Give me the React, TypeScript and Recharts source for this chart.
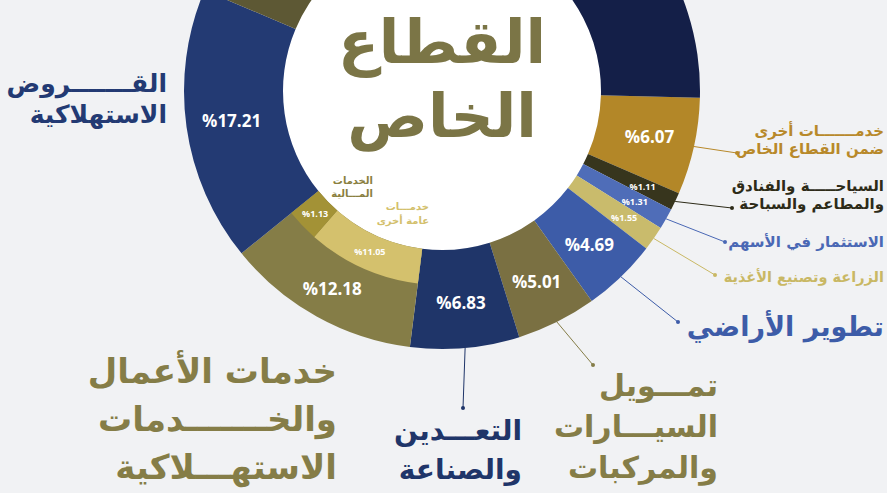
import { PieChart, Pie, Cell } from "recharts"

// private sector credit by activity (%), clockwise from the 3 o'clock side
const sectors = [
  "خدمات أخرى ضمن القطاع الخاص",
  "السياحة والفنادق والمطاعم والسباحة",
  "الاستثمار في الأسهم",
  "الزراعة وتصنيع الأغذية",
  "تطوير الأراضي",
  "تمويل السيارات والمركبات",
  "التعدين والصناعة",
  "خدمات الأعمال والخدمات الاستهلاكية",
  "القروض الاستهلاكية",
  "التجارة",
  "التمويل العقاري",
]
const shares = [6.07, 1.11, 1.31, 1.55, 4.69, 5.01, 6.83, 12.18, 17.21, 22.67, 21.37]

// breakdown of the business & consumer services slice
const subSectors = ["خدمات عامة أخرى", "الخدمات المالية"]
const subShares = [11.05, 1.13]
const PARENT = 7

const data = sectors.map((name, i) => ({ name, value: shares[i] }))
const subData = subSectors.map((name, i) => ({ name, value: subShares[i] }))

const fills = ["#b38728", "#37351d", "#4f6db8", "#c9bb6c", "#3d5ca8", "#7a7042", "#1f3569", "#857d47", "#233a73", "#5d5834", "#141f48"]
const subFills = ["#d4c16d", "#a39236"]

const START = 358.5
const total = shares.reduce((a, b) => a + b, 0)
const before = shares.slice(0, PARENT).reduce((a, b) => a + b, 0)
const subStart = START - (360 * before) / total
const subEnd = subStart - (360 * shares[PARENT]) / total

const CX = 442
const CY = 91
const INNER = 159
const OUTER = 258
const SUB_OUTER = 194
const RAD = Math.PI / 180
const AR = "'DejaVu Sans', sans-serif"
const NUM = "'Open Sans', sans-serif"

type Callout = { lines: string[]; x: number; y: number; size: number; gap: number; color: string; dot?: [number, number] }

const callouts: Record<number, Callout> = {
  0: { lines: ["خدمـــــــات أخرى", "ضمن القطاع الخاص"], x: 884, y: 136, size: 15, gap: 18, color: "#b8892a", dot: [737, 153] },
  1: { lines: ["السياحـــــة والفنادق", "والمطاعم والسباحة"], x: 884, y: 191, size: 15, gap: 18, color: "#2d2b18", dot: [732, 208] },
  2: { lines: ["الاستثمار في الأسهم"], x: 884, y: 247, size: 15, gap: 0, color: "#4a68b5", dot: [725, 242] },
  3: { lines: ["الزراعة وتصنيع الأغذية"], x: 884, y: 282, size: 14.5, gap: 0, color: "#c9b864", dot: [715, 275] },
  4: { lines: ["تطوير الأراضي"], x: 884, y: 336, size: 27, gap: 0, color: "#3d5ca8", dot: [678, 322] },
  5: { lines: ["تمـــويل", "السيـــارات", "والمركبات"], x: 718, y: 396, size: 30, gap: 41, color: "#857d47", dot: [593, 365] },
  6: { lines: ["التعـــدين", "والصناعة"], x: 522, y: 440, size: 28, gap: 39, color: "#1f3569", dot: [463, 408] },
  7: { lines: ["خدمات الأعمال", "والخـــــــدمات", "الاستهـــلاكية"], x: 337, y: 383, size: 34, gap: 48, color: "#857d47" },
  8: { lines: ["القـــــــروض", "الاستهلاكية"], x: 167, y: 92, size: 25, gap: 31, color: "#233a73" },
}

const subCallouts: Record<number, Callout> = {
  0: { lines: ["خدمـــات", "عامة أخرى"], x: 429, y: 210, size: 10, gap: 14, color: "#d3c06c" },
  1: { lines: ["الخدمات", "المـــالية"], x: 373, y: 184, size: 10, gap: 13, color: "#8a7f3f" },
}

function polar(r: number, angle: number) {
  return [CX + r * Math.cos(-angle * RAD), CY + r * Math.sin(-angle * RAD)]
}

function CalloutText({ c }: { c: Callout }) {
  return (
    <text textAnchor="end" fill={c.color} fontFamily={AR} fontWeight={700} fontSize={c.size}>
      {c.lines.map((l, k) => (
        <tspan key={k} x={c.x} y={c.y + k * c.gap}>
          {l}
        </tspan>
      ))}
    </text>
  )
}

function SectorLabel(props: any) {
  const { midAngle, value, index, outerRadius } = props
  const small = value < 2
  const r = index === PARENT ? (SUB_OUTER + OUTER) / 2 : small ? OUTER - 36 : (INNER + OUTER) / 2 + 4
  const [x, y] = polar(r, midAngle)
  const c = callouts[index]
  let leader = null
  if (c && c.dot) {
    const [sx, sy] = polar(outerRadius, midAngle)
    leader = (
      <g>
        <line x1={sx} y1={sy} x2={c.dot[0]} y2={c.dot[1]} stroke={c.color} strokeWidth={1} />
        <circle cx={c.dot[0]} cy={c.dot[1]} r={2} fill={c.color} />
      </g>
    )
  }
  return (
    <g>
      {y > 0 && (
        <text x={x} y={y} fill="#fff" textAnchor="middle" dominantBaseline="central" fontFamily={NUM} fontWeight={700} fontSize={small ? 9 : 17}>
          %{value.toFixed(2)}
        </text>
      )}
      {leader}
      {c && <CalloutText c={c} />}
    </g>
  )
}

function SubLabel(props: any) {
  const { midAngle, value, index } = props
  const [x, y] = polar(176, midAngle)
  const c = subCallouts[index]
  return (
    <g>
      <text x={x} y={y} fill="#fff" textAnchor="middle" dominantBaseline="central" fontFamily={NUM} fontWeight={700} fontSize={9}>
        %{value.toFixed(2)}
      </text>
      {c && <CalloutText c={c} />}
    </g>
  )
}

function Title() {
  return (
    <text textAnchor="middle" fill="#7b7546" fontFamily={AR} fontWeight={700} fontSize={60}>
      <tspan x={CX} y={63}>القطاع</tspan>
      <tspan x={CX} y={137}>الخاص</tspan>
    </text>
  )
}

export default function App() {
  return (
    <div style={{ position: "absolute", left: 0, top: 0, width: 887, height: 493, background: "#f1f2f4", overflow: "hidden" }}>
      <PieChart width={887} height={493} margin={{ top: 0, right: 0, bottom: 0, left: 0 }}>
        <Pie
          data={[{ name: "القطاع الخاص", value: 1 }]}
          dataKey="value"
          cx={CX}
          cy={CY}
          innerRadius={0}
          outerRadius={INNER}
          fill="#ffffff"
          stroke="none"
          label={Title}
          labelLine={false}
          isAnimationActive={false}
        />
        <Pie
          data={data}
          dataKey="value"
          cx={CX}
          cy={CY}
          innerRadius={INNER}
          outerRadius={OUTER}
          startAngle={START}
          endAngle={START - 360}
          stroke="none"
          label={SectorLabel}
          labelLine={false}
          isAnimationActive={false}
        >
          {data.map((d, i) => (
            <Cell key={d.name} fill={fills[i]} />
          ))}
        </Pie>
        <Pie
          data={subData}
          dataKey="value"
          cx={CX}
          cy={CY}
          innerRadius={INNER}
          outerRadius={SUB_OUTER}
          startAngle={subStart}
          endAngle={subEnd}
          minAngle={7}
          stroke="none"
          label={SubLabel}
          labelLine={false}
          isAnimationActive={false}
        >
          {subData.map((d, i) => (
            <Cell key={d.name} fill={subFills[i]} />
          ))}
        </Pie>
      </PieChart>
    </div>
  )
}
